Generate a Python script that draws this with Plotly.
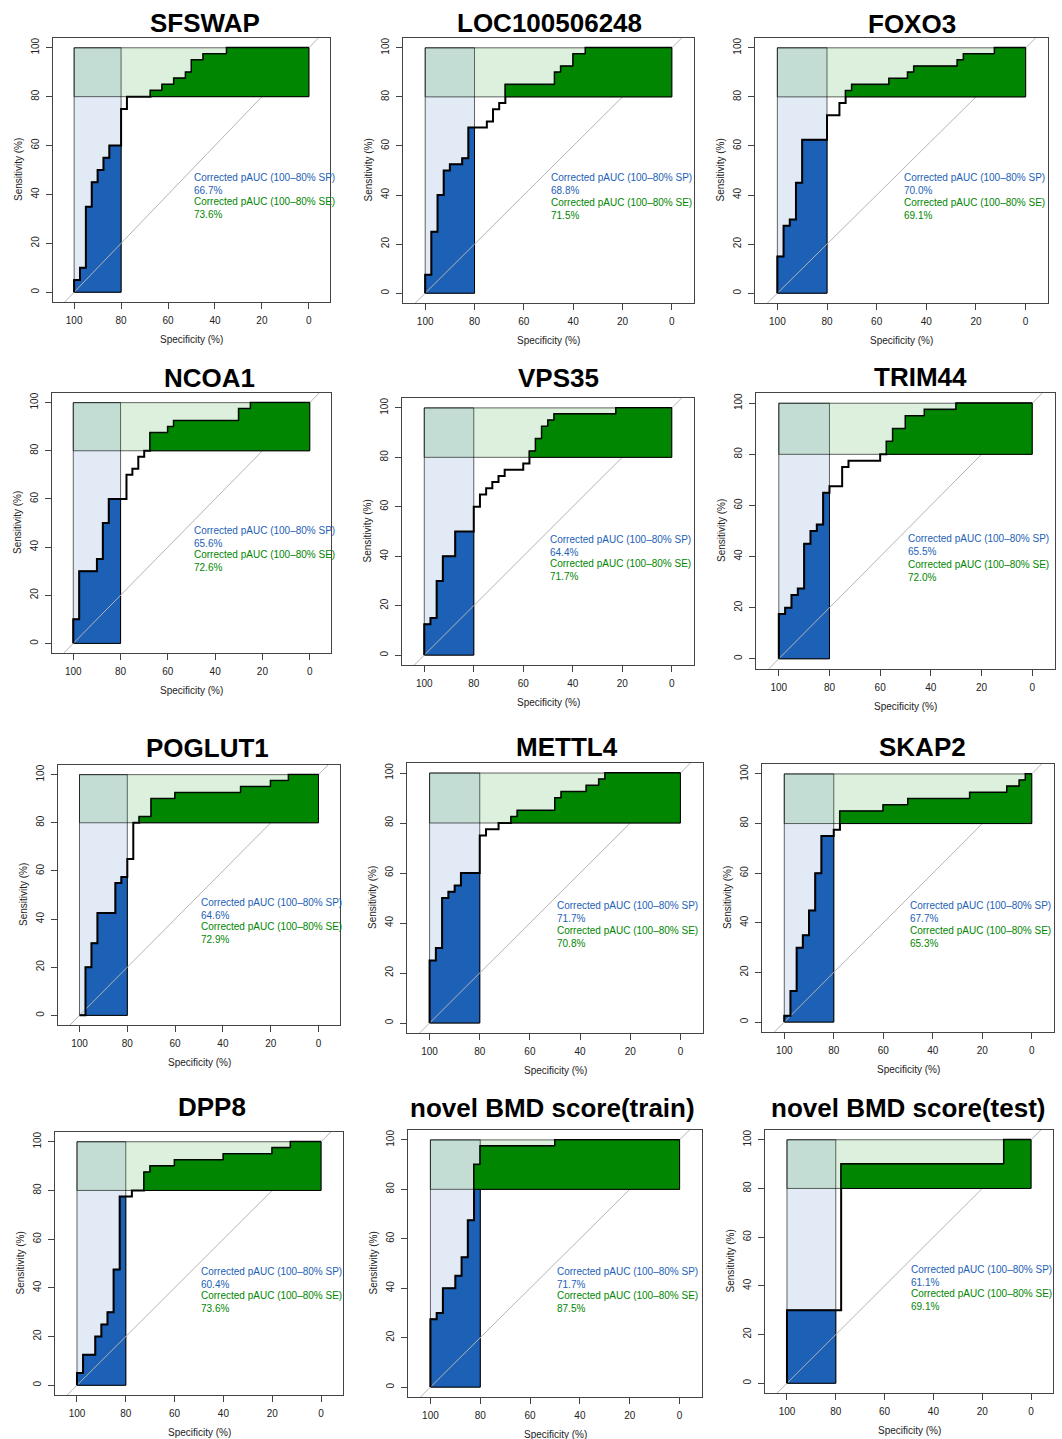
import plotly.graph_objects as go

# ---------------- data ----------------
TITLES = ["SFSWAP", "LOC100506248", "FOXO3", "NCOA1", "VPS35", "TRIM44",
          "POGLUT1", "METTL4", "SKAP2", "DPP8", "novel BMD score(train)", "novel BMD score(test)"]

# staircase ROC: at specificity SP[i] the curve rises to sensitivity SE[i], then runs to SP[i+1]
SFSWAP_SP = [100, 97.5, 95, 92.5, 90, 87.5, 85, 80, 77.5, 67.5, 62.5, 57.5, 52.5, 50, 45, 35, 0]
SFSWAP_SE = [5, 10, 35, 45, 50, 55, 60, 75, 80, 82.5, 85, 87.5, 90, 95, 97.5, 100, 100]
LOC_SP = [100, 97.5, 95, 92.5, 90, 85, 82.5, 75, 72.5, 70, 67.5, 47.5, 45, 40, 35, 0]
LOC_SE = [7.5, 25, 40, 50, 52.5, 55, 67.5, 70, 75, 77.5, 85, 90, 92.5, 97.5, 100, 100]
FOXO3_SP = [100, 97.5, 95, 92.5, 90, 80, 75, 72.5, 70, 55, 47.5, 45, 27.5, 25, 12.5, 0]
FOXO3_SE = [15, 27.5, 30, 45, 62.5, 72.5, 77.5, 82.5, 85, 87.5, 90, 92.5, 95, 97.5, 100, 100]
NCOA1_SP = [100, 97.5, 90, 87.5, 85, 77.5, 75, 72.5, 70, 67.5, 60, 57.5, 30, 25, 0]
NCOA1_SE = [10, 30, 35, 50, 60, 70, 72.5, 77.5, 80, 87.5, 90, 92.5, 97.5, 100, 100]
VPS35_SP = [100, 97.5, 95, 92.5, 87.5, 80, 77.5, 75, 72.5, 70, 67.5, 60, 57.5, 55, 52.5, 50, 47.5, 22.5, 0]
VPS35_SE = [12.5, 15, 30, 40, 50, 60, 65, 67.5, 70, 72.5, 75, 77.5, 82.5, 87.5, 92.5, 95, 97.5, 100, 100]
TRIM44_SP = [100, 97.5, 95, 92.5, 90, 87.5, 85, 82.5, 80, 75, 72.5, 60, 57.5, 55, 50, 42.5, 30, 0]
TRIM44_SE = [17.5, 20, 25, 27.5, 45, 50, 52.5, 65, 67.5, 75, 77.5, 80, 85, 90, 95, 97.5, 100, 100]
POGLUT1_SP = [100, 97.5, 95, 92.5, 85, 82.5, 80, 77.5, 75, 70, 60, 32.5, 20, 12.5, 0]
POGLUT1_SE = [0, 20, 30, 42.5, 55, 57.5, 65, 80, 82.5, 90, 92.5, 95, 97.5, 100, 100]
METTL4_SP = [100, 97.5, 95, 92.5, 90, 87.5, 80, 77.5, 72.5, 67.5, 65, 50, 47.5, 37.5, 32.5, 30, 0]
METTL4_SE = [25, 30, 50, 52.5, 55, 60, 75, 77.5, 80, 82.5, 85, 90, 92.5, 95, 97.5, 100, 100]
SKAP2_SP = [100, 97.5, 95, 92.5, 90, 87.5, 85, 80, 77.5, 60, 50, 25, 10, 5, 2.5, 0]
SKAP2_SE = [2.5, 12.5, 30, 35, 45, 60, 75, 77.5, 85, 87.5, 90, 92.5, 95, 97.5, 100, 100]
DPP8_SP = [100, 97.5, 92.5, 90, 87.5, 85, 82.5, 77.5, 72.5, 70, 60, 40, 20, 12.5, 0]
DPP8_SE = [5, 12.5, 20, 25, 30, 47.5, 77.5, 80, 87.5, 90, 92.5, 95, 97.5, 100, 100]
TRAIN_SP = [100, 97.5, 95, 90, 87.5, 85, 82.5, 80, 50, 0]
TRAIN_SE = [27.5, 30, 40, 45, 52.5, 67.5, 90, 97.5, 100, 100]
TEST_SP = [100, 77.8, 11.1, 0]
TEST_SE = [30, 90, 100, 100]

CURVES_SP = [SFSWAP_SP, LOC_SP, FOXO3_SP, NCOA1_SP, VPS35_SP, TRIM44_SP,
             POGLUT1_SP, METTL4_SP, SKAP2_SP, DPP8_SP, TRAIN_SP, TEST_SP]
CURVES_SE = [SFSWAP_SE, LOC_SE, FOXO3_SE, NCOA1_SE, VPS35_SE, TRIM44_SE,
             POGLUT1_SE, METTL4_SE, SKAP2_SE, DPP8_SE, TRAIN_SE, TEST_SE]

PAUC_SP = [66.7, 68.8, 70.0, 65.6, 64.4, 65.5, 64.6, 71.7, 67.7, 60.4, 71.7, 61.1]
PAUC_SE = [73.6, 71.5, 69.1, 72.6, 71.7, 72.0, 72.9, 70.8, 65.3, 73.6, 87.5, 69.1]

PARTIAL = (100, 80)          # partial AUC limits (%)
TICKS = [0, 20, 40, 60, 80, 100]

# ---------------- layout geometry (pixels) ----------------
W, H = 1062, 1439
BOXES = [  # x0, x1, y0, y1 of each plot box
    (53, 330, 38, 302), (403, 694, 38, 303), (755, 1048, 38, 303),
    (52, 331, 393, 653), (402, 694, 398, 665), (756, 1055, 393, 669),
    (58, 340, 765, 1025), (407, 703, 763, 1033), (762, 1054, 764, 1032),
    (55, 343, 1132, 1395), (408, 702, 1130, 1397), (765, 1053, 1130, 1393),
]
TITLE_POS = [(205, 23), (549, 23), (912, 24), (209, 378), (558, 378), (920, 377),
             (207, 748), (567, 747), (922, 747), (212, 1107), (552, 1108), (908, 1108)]

BLUE = "#1c61b6"
GREEN = "#008600"
BLUE_LIGHT = "rgba(28,97,182,0.133)"
GREEN_LIGHT = "rgba(0,134,0,0.133)"
FONT = "Liberation Sans, Arial, Helvetica, sans-serif"


def stair(sp, se):
    pts = [(sp[0], 0.0)]
    for i in range(len(sp)):
        pts.append((sp[i], se[i]))
        if i + 1 < len(sp):
            pts.append((sp[i + 1], se[i]))
    return pts


def sp_polygon(pts, lim):
    out = []
    for i, (x, y) in enumerate(pts):
        if x > lim:
            out.append((x, y))
            continue
        if x == lim:
            out.append((x, y))
        else:
            px, py = pts[i - 1]
            t = (px - lim) / (px - x)
            out.append((lim, py + t * (y - py)))
        break
    out += [(lim, 0), (pts[0][0], 0)]
    return out


def se_polygon(pts, lim):
    rev = pts[::-1]
    out = []
    for i, (x, y) in enumerate(rev):
        if y > lim:
            out.append((x, y))
            continue
        if y == lim:
            out.append((x, y))
        else:
            px, py = rev[i - 1]
            t = (py - lim) / (py - y)
            out.append((px + t * (x - px), lim))
        break
    out += [(rev[0][0], lim)]
    return out


fig = go.Figure()
annotations = []
hi, lo = PARTIAL

for k in range(12):
    xa = "x" if k == 0 else f"x{k+1}"
    ya = "y" if k == 0 else f"y{k+1}"
    pts = stair(CURVES_SP[k], CURVES_SE[k])
    common = dict(xaxis=xa, yaxis=ya, showlegend=False, hoverinfo="skip")

    # max pAUC polygon (specificity focus)
    fig.add_trace(go.Scatter(x=[hi, hi, lo, lo, hi], y=[0, 100, 100, 0, 0], mode="lines",
                             fill="toself", fillcolor=BLUE_LIGHT,
                             line=dict(color="rgba(0,0,0,0.75)", width=0.8), **common))
    bp = sp_polygon(pts, lo)
    fig.add_trace(go.Scatter(x=[p[0] for p in bp] + [bp[0][0]], y=[p[1] for p in bp] + [bp[0][1]],
                             mode="lines", fill="toself", fillcolor=BLUE,
                             line=dict(color="black", width=1), **common))
    # identity line
    fig.add_trace(go.Scatter(x=[130, -30], y=[100 - 130, 100 + 30], mode="lines",
                             line=dict(color="#b4b4b4", width=1), **common))
    # ROC curve
    fig.add_trace(go.Scatter(x=[p[0] for p in pts], y=[p[1] for p in pts], mode="lines",
                             line=dict(color="black", width=2), **common))
    # max pAUC polygon (sensitivity focus)
    fig.add_trace(go.Scatter(x=[hi, hi, 0, 0, hi], y=[lo, hi, hi, lo, lo], mode="lines",
                             fill="toself", fillcolor=GREEN_LIGHT,
                             line=dict(color="rgba(0,0,0,0.75)", width=0.8), **common))
    gp = se_polygon(pts, lo)
    fig.add_trace(go.Scatter(x=[p[0] for p in gp] + [gp[0][0]], y=[p[1] for p in gp] + [gp[0][1]],
                             mode="lines", fill="toself", fillcolor=GREEN,
                             line=dict(color="black", width=1), **common))

    x0, x1, y0, y1 = BOXES[k]
    axcommon = dict(showgrid=False, zeroline=False, showline=True, mirror=True,
                    linecolor="#444", linewidth=1, ticks="outside", ticklen=6,
                    tickcolor="#444", tickvals=TICKS, ticklabelstandoff=3,
                    tickfont=dict(family=FONT, size=10, color="#222"))
    fig.layout[("xaxis" if k == 0 else f"xaxis{k+1}")] = dict(
        domain=[x0 / W, x1 / W], range=[109, -9], anchor=ya, **axcommon)
    fig.layout[("yaxis" if k == 0 else f"yaxis{k+1}")] = dict(
        domain=[1 - y1 / H, 1 - y0 / H], range=[-4, 104], anchor=xa, tickangle=-90, **axcommon)

    # pAUC text
    annotations.append(dict(xref=xa, yref=ya, x=50, y=50, xanchor="left", yanchor="top",
                            align="left", showarrow=False,
                            text=f"Corrected pAUC (100–80% SP)<br>{PAUC_SP[k]:.1f}%",
                            font=dict(family=FONT, size=10, color=BLUE)))
    annotations.append(dict(xref=xa, yref=ya, x=50, y=40, xanchor="left", yanchor="top",
                            align="left", showarrow=False,
                            text=f"Corrected pAUC (100–80% SE)<br>{PAUC_SE[k]:.1f}%",
                            font=dict(family=FONT, size=10, color=GREEN)))
    # axis titles
    annotations.append(dict(xref=f"{xa} domain", yref=f"{ya} domain", x=0.5, y=0, yshift=-37,
                            xanchor="center", yanchor="middle", showarrow=False,
                            text="Specificity (%)", font=dict(family=FONT, size=10, color="#222")))
    annotations.append(dict(xref=f"{xa} domain", yref=f"{ya} domain", x=0, y=0.5, xshift=-35,
                            xanchor="center", yanchor="middle", showarrow=False, textangle=-90,
                            text="Sensitivity (%)", font=dict(family=FONT, size=10, color="#222")))
    # title
    tx, ty = TITLE_POS[k]
    annotations.append(dict(xref="paper", yref="paper", x=tx / W, y=1 - ty / H,
                            xanchor="center", yanchor="middle", showarrow=False,
                            text=f"<b>{TITLES[k]}</b>",
                            font=dict(family=FONT, size=26, color="black")))

fig.update_layout(width=W, height=H, margin=dict(l=0, r=0, t=0, b=0),
                  paper_bgcolor="white", plot_bgcolor="white",
                  annotations=annotations, showlegend=False)

fig.write_html("out.html", config={"displayModeBar": False},
               post_script="document.body.style.margin='0';document.body.style.overflow='hidden';")
